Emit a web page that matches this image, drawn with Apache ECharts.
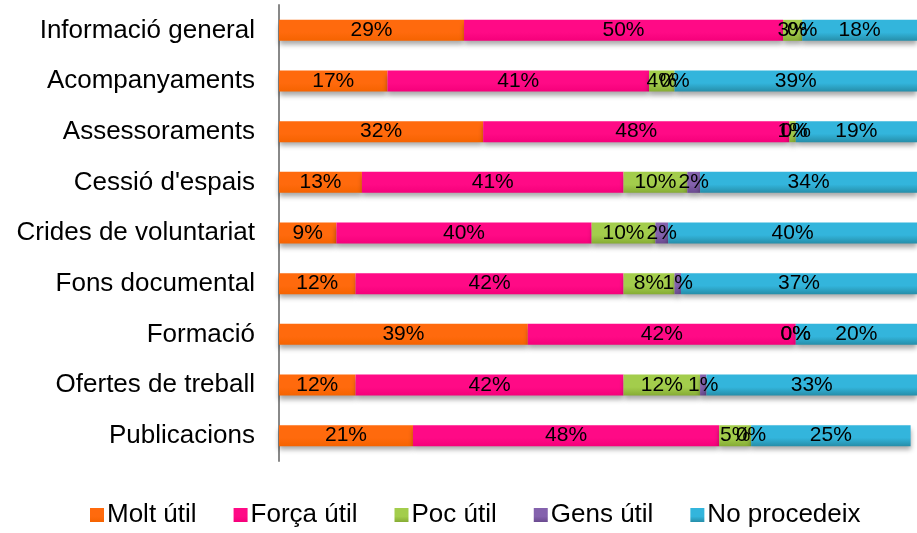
<!DOCTYPE html>
<html lang="ca">
<head>
<meta charset="UTF-8">
<title></title>
<script src="https://cdn.jsdelivr.net/npm/echarts@6/dist/echarts.min.js"></script>
<style>
  html, body { margin: 0; padding: 0; background: #fff; }
  #chart { width: 917px; height: 533px; }
</style>
</head>
<body>
<div id="chart"></div>
<script type="text/javascript">
// categories, top to bottom as in the picture
var categories = ['Informació general', 'Acompanyaments', 'Assessoraments', "Cessió d'espais",
  'Crides de voluntariat', 'Fons documental', 'Formació', 'Ofertes de treball', 'Publicacions'];
var seriesNames = ['Molt útil', 'Força útil', 'Poc útil', 'Gens útil', 'No procedeix'];
var moltUtil    = [29, 17, 32, 13,  9, 12, 39, 12, 21];
var forcaUtil   = [50, 41, 48, 41, 40, 42, 42, 42, 48];
var pocUtil     = [ 3,  4,  1, 10, 10,  8,  0, 12,  5];
var gensUtil    = [ 0,  0,  0,  2,  2,  1,  0,  1,  0];
var noProcedeix = [18, 39, 19, 34, 40, 37, 20, 33, 25];
var colors = [
  ['#ff6a0d', '#f56300'],
  ['#ff0a86', '#f5007a'],
  ['#a3cd4c', '#86ac34'],
  ['#8462ad', '#6a4a8f'],
  ['#33b5dc', '#268ea9']
];

var myChart = echarts.init(document.getElementById('chart'));
var allData = [moltUtil, forcaUtil, pocUtil, gensUtil, noProcedeix];
var series = [];
for (var i = 0; i < seriesNames.length; i++) {
  series.push({
    name: seriesNames[i],
    type: 'bar',
    stack: 'total',
    barWidth: 21,
    data: allData[i],
    itemStyle: {
      color: new echarts.graphic.LinearGradient(0, 0, 0, 1, [
        { offset: 0, color: colors[i][0] },
        { offset: 0.6, color: colors[i][0] },
        { offset: 1, color: colors[i][1] }
      ]),
      shadowColor: 'rgba(0,0,0,0.35)',
      shadowBlur: 5,
      shadowOffsetY: 4
    },
    label: {
      show: true,
      position: 'inside',
      color: '#000',
      fontFamily: 'Liberation Sans',
      fontSize: 21,
      formatter: '{c}%'
    }
  });
}

var option = {
  animation: false,
  grid: { left: 279, right: -2, top: 5, bottom: 72 },
  legend: {
    bottom: 0,
    left: 85,
    itemWidth: 14,
    itemHeight: 14,
    itemGap: 37,
    icon: 'rect',
    textStyle: { fontFamily: 'Liberation Sans', fontSize: 26, color: '#000', padding: [0, 0, 0, -2] },
    data: seriesNames
  },
  xAxis: {
    type: 'value',
    min: 0,
    max: 100,
    show: false
  },
  yAxis: {
    type: 'category',
    inverse: true,
    data: categories,
    axisLine: { lineStyle: { color: '#888', width: 2 } },
    axisTick: { show: false },
    axisLabel: { fontFamily: 'Liberation Sans', fontSize: 26, color: '#000', margin: 24 }
  },
  series: series
};
myChart.setOption(option);
</script>
</body>
</html>
